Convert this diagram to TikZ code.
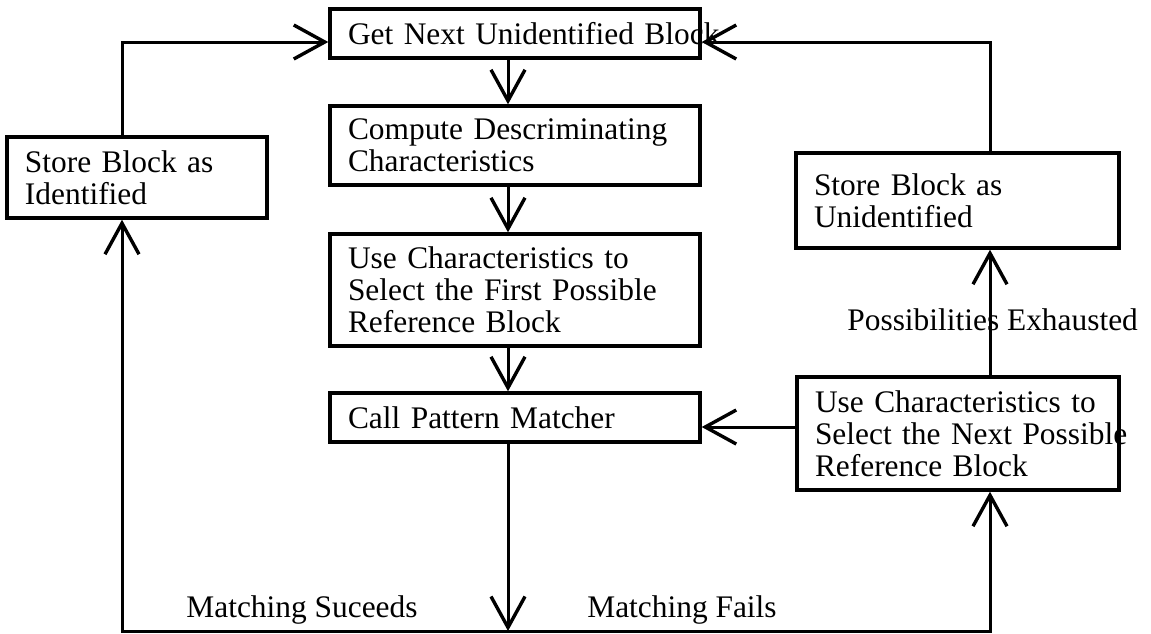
\documentclass[tikz,border=0pt]{standalone}
\usepackage{fontspec}
\setmainfont{Liberation Serif}
\usetikzlibrary{arrows.meta}

\begin{document}
\begin{tikzpicture}[x=0.5pt,y=-0.5pt,
  font=\fontsize{15.7}{16}\selectfont,
  procbox/.style={draw, line width=1.7pt, align=left, inner xsep=9pt, inner ysep=2pt},
  flow/.style={line width=1.5pt, -{Straight Barb[length=15.5pt,width=17pt,line width=1.7pt]}},
  edgetext/.style={inner sep=0pt, anchor=base}]

\useasboundingbox (0,0) rectangle (1151,633);

% main column
\node [procbox, minimum width=185pt, minimum height=24.5pt, text width=167pt] (get) at (515,33.5)
  {\mbox{Get Next Unidentified Block}};
\node [procbox, minimum width=185pt, minimum height=39.5pt, text width=167pt] (disc) at (515,145.5)
  {Compute Descriminating\\Characteristics};
\node [procbox, minimum width=185pt, minimum height=56pt, text width=167pt] (first) at (515,290)
  {Use Characteristics to\\Select the First Possible\\Reference Block};
\node [procbox, minimum width=185pt, minimum height=24.5pt, text width=167pt] (call) at (515,417.5)
  {Call Pattern Matcher};

% side boxes
\node [procbox, minimum width=130pt, minimum height=40.5pt, text width=112pt] (ident) at (137,177.5)
  {Store Block as\\Identified};
\node [procbox, minimum width=161.5pt, minimum height=47.5pt, text width=143.5pt] (unid) at (957.5,200.5)
  {Store Block as\\Unidentified};
\node [procbox, minimum width=161pt, minimum height=56.5pt, text width=143pt] (next) at (958,433.5)
  {Use Characteristics to\\\mbox{Select the Next Possible}\\Reference Block};

% labels
\node [edgetext, anchor=base west] (exh) at (847,330) {Possibilities Exhausted};
\node [edgetext] (succ) at (302,617) {Matching Suceeds};
\node [edgetext] (fail) at (682,617) {Matching Fails};

% corners of the loops
\coordinate (tl) at (122,42);
\coordinate (tr) at (990,42);
\coordinate (bl) at (122,631);
\coordinate (br) at (990,631);
\coordinate (bm) at (508,631);

\draw [flow] (get.south -| bm) -- (disc.north -| bm);
\draw [flow] (disc.south -| bm) -- (first.north -| bm);
\draw [flow] (first.south -| bm) -- (call.north -| bm);
\draw [flow] (call.south -| bm) -- (bm);

\draw [flow] (bm) -- (bl) -- (ident.south -| bl);
\draw [flow] (ident.north -| tl) -- (tl) -- (tl -| get.west);
\draw [flow] (bm) -- (br) -- (next.south -| br);
\draw [flow] (next.north -| tr) -- (unid.south -| tr);
\draw [flow] (unid.north -| tr) -- (tr) -- (tr -| get.east);
\draw [flow] ([yshift=3.25pt]next.west) -- ([yshift=3.25pt]next.west -| call.east);

\end{tikzpicture}
\end{document}
